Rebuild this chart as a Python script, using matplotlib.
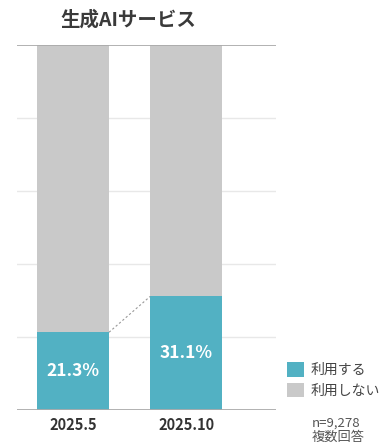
import matplotlib.pyplot as plt

plt.rcParams["font.family"] = ["Noto Sans CJK JP", "DejaVu Sans"]

TEAL = "#52B1C3"
GRAY = "#C9C9C9"

periods = ["2025.5", "2025.10"]
use = [21.3, 31.1]
no_use = [78.7, 68.9]
yticks = [0, 20, 40, 60, 80, 100]

W, H = 379, 443
fig = plt.figure(figsize=(W / 100, H / 100), dpi=100)
ax = fig.add_axes([17 / W, (H - 410) / H, (276 - 17) / W, 365 / H])

x = range(len(periods))
bw = 0.637
b1 = ax.bar(x, use, width=bw, color=TEAL, label="利用する", zorder=2)
b2 = ax.bar(x, no_use, bottom=use, width=bw, color=GRAY, label="利用しない", zorder=2)

for xi, v in zip(x, use):
    ax.text(xi, v / 2, f"{v}%", ha="center", va="center", color="white",
            fontsize=12.5, fontweight="bold", zorder=3)

# dashed connector between the tops of the teal segments
ax.plot([0 + bw / 2, 1 - bw / 2], use, ls=(0, (2, 2)), color="#999999", lw=0.8, zorder=3)

for t in yticks:
    edge = t in (0, 100)
    ax.axhline(t, color="#ABABAB" if edge else "#E8E8E8",
               lw=1.3 if edge else 1.0, zorder=4 if edge else 1)

ax.set_xlim(-0.496, 1.796)
ax.set_ylim(0, 100)
ax.set_yticks([])
ax.set_xticks(list(x))
ax.set_xticklabels(periods, fontsize=10.5, fontweight="bold", color="#333333")
ax.tick_params(axis="x", length=0, pad=5)
for s in ax.spines.values():
    s.set_visible(False)

fig.text(128 / W, 1 - 20 / H, "生成AIサービス", ha="center", va="center",
         fontsize=14, fontweight="bold", color="#3A3A3A")

fig.legend(handles=[b1, b2], loc="upper left",
           bbox_to_anchor=(280.5 / W, 1 - 355.5 / H), frameon=False,
           fontsize=10, handlelength=1.2, handleheight=1.2, handletextpad=0.45,
           labelspacing=0.4, borderpad=0, labelcolor="#444444")

fig.text(312 / W, 1 - 423 / H, "n=9,278", ha="left", va="center",
         fontsize=9.5, color="#555555")
fig.text(312 / W, 1 - 437 / H, "複数回答", ha="left", va="center",
         fontsize=9.5, color="#555555")

fig.savefig("out.png", dpi=100)
